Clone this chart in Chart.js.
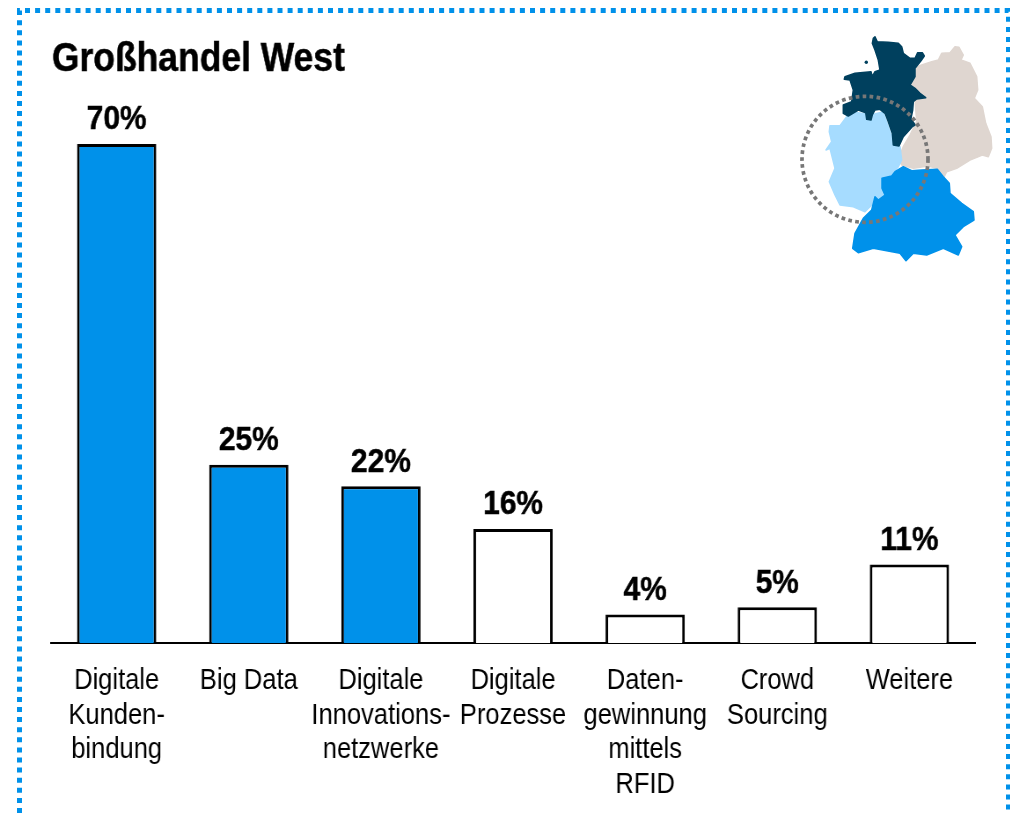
<!DOCTYPE html>
<html lang="de">
<head>
<meta charset="utf-8">
<title>Großhandel West</title>
<script src="https://cdn.jsdelivr.net/npm/chart.js@4/dist/chart.umd.min.js"></script>
<style>
  html, body { margin: 0; padding: 0; background: #fff; overflow: hidden; width: 1010px; height: 813px; }
  #wrap { position: absolute; left: 0; top: 0; transform-origin: 0 0; transform: scaleX(0.88); }
  #chart { display: block; }
  #overlay { position: absolute; left: 0; top: 0; }
  #overlay polygon { stroke-width: 1.5; stroke-linejoin: round; }
</style>
</head>
<body>
<div id="wrap"><canvas id="chart" width="1148" height="813"></canvas></div>
<svg id="overlay" width="1010" height="813" viewBox="0 0 1010 813">
  <!-- dotted frame -->
  <path d="M19.5 813V10.5H1008.5V813" fill="none" stroke="#0091ea" stroke-width="5" stroke-dasharray="5 5.1"/>
  <!-- little map -->
  <polygon fill="#dfd6d0" stroke="#dfd6d0" points="941.7,53.3 950,52.7 955,46.7 959,47.3 963.3,55 961,60 970,63.3 976.7,76.7 977.7,90 974.3,98.3 982.3,106.7 985.7,123.3 991,136.7 991.7,148.3 988.3,156.7 982.3,155 970,160 956.7,168.3 946.7,171.7 943.3,178.3 936.7,168.3 928.3,166 913.3,168.3 901.7,165 898.3,158.3 903.3,146.7 910,135 916.7,121.7 915,100 925.7,96.7 910,83.3 913.3,68.3 921.7,65 931.7,61.7 938.3,60"/>
  <polygon fill="#a6dcff" stroke="#a6dcff" points="830,125.7 840,125.7 846.7,116.7 853.3,111.7 870,115 883,112 895,145 900,146.7 901.7,160 898.3,166.7 890,176.7 882.7,179 882.7,191.7 885,196.7 875,201.7 865,211.7 853.3,206.7 840,205 835,195 829.3,181.7 835,168.3 830,148.3 826,150 831.7,141.7 829.3,131.7"/>
  <polygon fill="#0091ea" stroke="#0091ea" points="895,171.7 903.3,166.7 911.7,170.7 921.7,170 937.3,169.3 943.3,176.7 949.3,183.3 950,193.3 961.7,203.3 973.3,211.7 974,220 963.3,226.7 955,235 961.7,246.7 958.3,255 943.3,248.3 926.7,255 913.3,253.3 906,260.7 900,253.3 873.3,248.3 858.3,252.7 852.7,248.3 855,233.3 863.3,218.3 871.7,210 875,196.7 878.3,200 885,195 882,188.3 882,178.3 891.7,176"/>
  <polygon fill="#00405e" stroke="#00405e" points="875,36.7 877.3,41.7 888.3,42.3 898.3,43.3 901.7,46.7 903.3,53.3 910,58.3 915,58.3 917.7,52.7 922.3,52.7 924.3,56 921,60.7 915,68.3 915,76.7 910,85 915,88.3 920,93.3 925.7,97.7 916.7,99 913.3,101.7 912.7,110 911,118.3 915,125 912.3,126.7 903.3,136.7 899,146 893.3,145 892.3,133.3 888.3,121.7 885,113.3 880,109.3 875,110 872.3,115 871,120 866.7,119.3 865.7,112.7 858.3,110 848.3,116 843.3,113.3 843.3,105 851.7,101.7 853.3,90 850,80 844.3,79.3 845,76.7 855,73.3 871,71.7 872.3,76.7 875,71.7 880,70 878.3,60 875,50 872.3,43.3 873.3,38.3"/>
  <circle cx="866.3" cy="62.3" r="1.7" fill="#00405e"/>
  <circle cx="865" cy="159.3" r="63" fill="none" stroke="#777" stroke-width="3.7" stroke-dasharray="3.7 3.3"/>
</svg>
<script>
var categories = [
  ['Digitale', 'Kunden-', 'bindung'],
  'Big Data',
  ['Digitale', 'Innovations-', 'netzwerke'],
  ['Digitale', 'Prozesse'],
  ['Daten-', 'gewinnung', 'mittels', 'RFID'],
  ['Crowd', 'Sourcing'],
  'Weitere'
]
var values = [70, 25, 22, 16, 4, 5, 11]
var chartTitle = 'Großhandel West'

var font = '"Liberation Sans", Arial, sans-serif'

// heading and percent figures, slightly thickened to match the picture
var textLayer = {
  id: 'textLayer',
  afterDatasetsDraw(chart) {
    var ctx = chart.ctx
    ctx.save()
    ctx.fillStyle = '#000'
    ctx.strokeStyle = '#000'
    ctx.lineWidth = 0.5

    ctx.font = 'bold 40.3px ' + font
    ctx.textAlign = 'left'
    ctx.textBaseline = 'alphabetic'
    ctx.fillText(chartTitle, 59, 71)
    ctx.strokeText(chartTitle, 59, 71)

    ctx.font = 'bold 34px ' + font
    ctx.textAlign = 'center'
    ctx.textBaseline = 'bottom'
    chart.getDatasetMeta(0).data.forEach(function (bar, i) {
      ctx.fillText(values[i] + '%', bar.x, bar.y - 7)
      ctx.strokeText(values[i] + '%', bar.x, bar.y - 7)
    })
    ctx.restore()
  }
}

new Chart('chart', {
  type: 'bar',
  data: {
    labels: categories,
    datasets: [{
      data: values,
      backgroundColor: function (c) { return c.dataIndex < 3 ? '#0091ea' : '#fff' },
      borderColor: '#000',
      borderWidth: 3,
      barPercentage: 0.6,
      categoryPercentage: 1
    }]
  },
  options: {
    responsive: false,
    animation: false,
    layout: { padding: { left: 57.5, right: 39.5, top: 144, bottom: 0 } },
    plugins: {
      legend: { display: false },
      tooltip: { enabled: false }
    },
    scales: {
      y: { display: false, min: 0, max: 70 },
      x: {
        grid: { display: false },
        border: { display: true, color: '#000', width: 2 },
        afterFit: function (scale) { scale.height = 170 },
        ticks: {
          color: '#000',
          autoSkip: false,
          maxRotation: 0,
          minRotation: 0,
          padding: 13,
          font: { family: font, size: 29, lineHeight: 1.19 }
        }
      }
    }
  },
  plugins: [textLayer]
})
</script>
</body>
</html>
